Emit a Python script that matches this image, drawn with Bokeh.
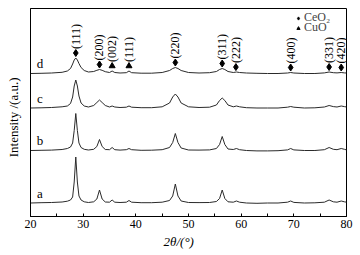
import numpy as np
from bokeh.plotting import figure
from bokeh.models import Range1d, FixedTicker, Legend, LegendItem
from bokeh.core.properties import value
from bokeh.embed import file_html
from bokeh.resources import INLINE

# ---------------- data ----------------
two_theta = [20, 22, 24, 26, 27, 27.6, 28.0, 28.3, 28.6, 28.9, 29.2, 29.6, 30.2, 31,
             32, 32.6, 33.1, 33.6, 34.2, 35.0, 35.5, 36.0, 37, 38.2, 38.7, 39.2,
             41, 43, 45, 46.4, 47.0, 47.5, 48.0, 48.6, 50, 52, 54,
             55.3, 55.9, 56.4, 56.9, 57.5, 58.5, 59.1, 59.7, 61, 63, 65, 67,
             68.8, 69.4, 70.0, 72, 74, 75.8, 76.7, 77.5, 78.2, 79.0, 79.6, 80]

int_a = [0, 0.3, 0.5, 1.0, 1.8, 3, 6, 21, 46, 21, 7, 3, 1.2, 0.5,
         1.2, 4, 13, 4, 1, 0.8, 3, 0.8, 0.5, 0.8, 2.5, 0.8,
         0.3, 0.3, 0.8, 2.5, 7, 19, 7, 2, 0.5, 0.4, 0.5,
         1.5, 4.5, 13, 4.5, 1.2, 0.8, 2, 0.8, 0, -0.3, 0, 0,
         0.8, 2, 0.6, 0, 0.2, 0.8, 3, 1.2, 0.8, 2, 1.2, 0.8]

int_b = [0, 0.2, 0.4, 1.0, 2, 3.5, 7.5, 20, 37, 20, 7.5, 3, 1.2, 0.5,
         1.2, 4, 11, 4, 1, 0.8, 3, 0.8, 0.4, 0.8, 2, 0.8,
         0.2, 0.3, 0.8, 3, 8, 17, 8, 2.5, 0.5, 0.4, 0.6,
         2, 6, 14, 6, 1.5, 1, 2, 0.8, 0, -0.4, -0.4, -0.2,
         0.6, 2, 0.6, 0, 0, 0.8, 3, 1.2, 0.8, 2, 1.2, 0.6]

int_c = [0, 0.2, 0.5, 1.2, 2, 4.5, 11, 22, 28, 22, 12, 5, 2, 1,
         2.5, 5.5, 8, 5.5, 2.5, 1, 2, 1, 0.5, 0.8, 2, 0.8,
         0.3, 0.3, 1.2, 5, 11, 14, 11, 5, 1.2, 0.5, 0.8,
         3, 7.5, 10, 7.5, 3, 1.2, 2, 1.2, 0.3, 0, 0, 0,
         0.8, 1.5, 0.8, 0, 0.2, 1, 2.5, 1.4, 1, 2, 1.4, 1]

int_d = [0, 0.2, 0.5, 1.2, 2.5, 5, 9.5, 13.5, 15.5, 13.5, 10, 6, 3, 1.5,
         2, 3.2, 4, 3.2, 1.8, 1, 2.5, 1, 0.5, 0.8, 2.5, 0.8,
         0.3, 0.3, 1, 3, 5, 6, 5, 3, 1, 0.5, 0.8,
         2, 4, 5, 4, 2, 1, 1.5, 1, 0.5, 0.2, 0, 0,
         0.5, 1, 0.5, 0, 0, 0.6, 1.5, 0.8, 0.6, 1, 0.6, 0.5]

samples = ["a", "b", "c", "d"]
offsets = [13.5, 66.0, 108.5, 143.0]

ceo2_pos = [28.6, 33.1, 47.5, 56.4, 59.0, 69.4, 76.7, 79.0]
ceo2_hkl = ["(111)", "(200)", "(220)", "(311)", "(222)", "(400)", "(331)", "(420)"]
cuo_pos = [35.5, 38.7]
cuo_hkl = ["(002)", "(111)"]

x_ticks = [20, 30, 40, 50, 60, 70, 80]
x_minor = [25, 35, 45, 55, 65, 75]

# ---------------- figure ----------------
FONT = "Liberation Serif"
LINE = "#2a2a2a"

p = figure(frame_width=316, frame_height=208, output_backend="svg",
           toolbar_location=None,
           x_range=Range1d(20, 80), y_range=Range1d(0, 208),
           min_border_left=30, min_border_right=14, min_border_top=8,
           min_border_bottom=39)
p.grid.visible = False
p.outline_line_color = "black"
p.outline_line_width = 1
p.background_fill_color = "white"
p.border_fill_color = "white"

xa = p.xaxis[0]
xa.ticker = FixedTicker(ticks=x_ticks, minor_ticks=x_minor)
xa.major_tick_in = 3
xa.major_tick_out = 0
xa.minor_tick_in = 3
xa.minor_tick_out = 0
xa.axis_line_color = "black"
xa.major_tick_line_color = "black"
xa.minor_tick_line_color = "black"
xa.major_label_text_font = FONT
xa.major_label_text_font_size = "12px"
xa.major_label_text_color = "black"
xa.major_label_standoff = 3
xa.axis_label = "2\u03b8/(\u00b0)" + "\u00a0" * 6
xa.axis_label_text_font = FONT
xa.axis_label_text_font_style = "italic"
xa.axis_label_text_font_size = "13px"
xa.axis_label_text_color = "black"
xa.axis_label_standoff = 3

ya = p.yaxis[0]
ya.ticker = FixedTicker(ticks=[])
ya.major_tick_in = 0
ya.major_tick_out = 0
ya.minor_tick_in = 0
ya.minor_tick_out = 0
ya.axis_line_color = "black"
ya.axis_label = "Intensity /(a.u.)" + "\u00a0" * 3
ya.axis_label_text_font = FONT
ya.axis_label_text_font_style = "normal"
ya.axis_label_text_font_size = "13px"
ya.axis_label_text_color = "black"
ya.axis_label_standoff = 10

curves = [int_a, int_b, int_c, int_d]
for name, off, ys in zip(samples, offsets, curves):
    yy = [off + v for v in ys]
    p.line(two_theta, yy, line_color=LINE, line_width=1)

# sample letters
p.text(x=[21.8] * 4, y=[o + 10 for o in offsets], text=samples,
       text_font=value(FONT), text_font_size="13px", text_color="black",
       text_align="center", text_baseline="middle")

# peak markers above curve d
d_off = offsets[3]
ce_y = [d_off + float(np.interp(x, two_theta, int_d)) + 5 for x in ceo2_pos]
cu_y = [d_off + float(np.interp(x, two_theta, int_d)) + 5 for x in cuo_pos]

r_ce = p.scatter(ceo2_pos, ce_y, marker="diamond", size=7, color="black")
r_cu = p.scatter(cuo_pos, cu_y, marker="triangle", size=6, color="black")

p.text(x=ceo2_pos, y=[y + 4 for y in ce_y], text=ceo2_hkl, angle=np.pi / 2,
       text_font=value(FONT), text_font_size="12px", text_color="black",
       text_align="left", text_baseline="middle")
p.text(x=cuo_pos, y=[y + 4 for y in cu_y], text=cuo_hkl, angle=np.pi / 2,
       text_font=value(FONT), text_font_size="12px", text_color="black",
       text_align="left", text_baseline="middle")


def make_legend(label, renderer, loc):
    lg = Legend(items=[LegendItem(label=label, renderers=[renderer])], location=loc)
    lg.label_text_font = FONT
    lg.label_text_font_size = "12px"
    lg.label_height = 10
    lg.glyph_width = 8
    lg.glyph_height = 8
    lg.label_standoff = 2
    lg.spacing = 0
    lg.padding = 0
    lg.margin = 0
    lg.border_line_color = None
    lg.background_fill_alpha = 0
    return lg


p.add_layout(make_legend("CeO\u2082", r_ce, (264, 191)))
p.add_layout(make_legend("CuO", r_cu, (264, 181)))

open("out.html", "w").write(file_html(p, INLINE))
